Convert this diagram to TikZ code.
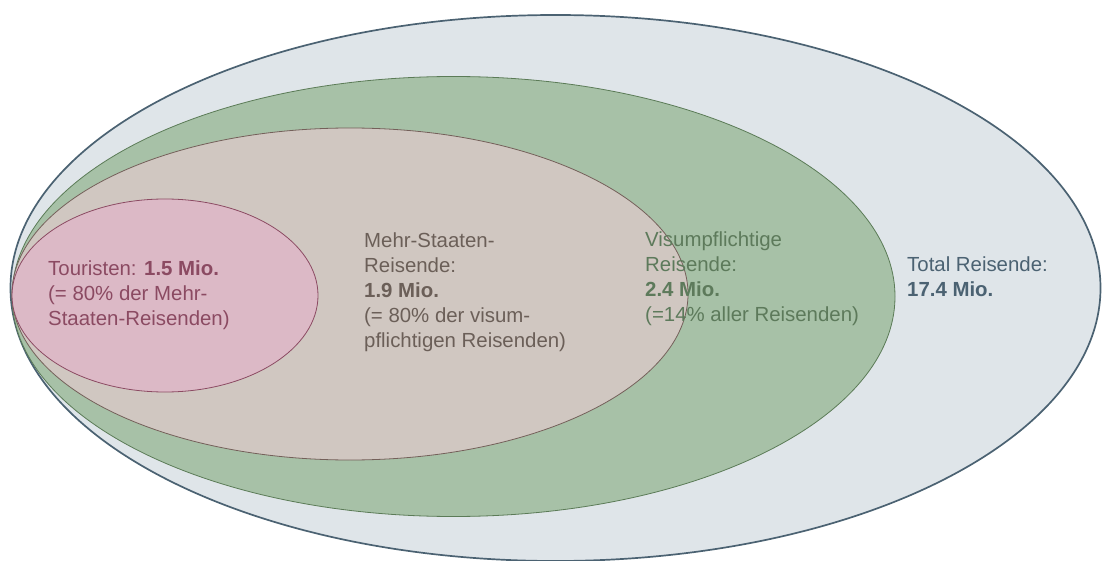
\documentclass[tikz,border=0pt]{standalone}
\usepackage{fontspec}
\setmainfont{Liberation Sans}
\usepackage{xcolor}
\usepackage{tikz}
\definecolor{totalFill}{HTML}{DFE5E9}
\definecolor{totalLine}{HTML}{4B6272}
\definecolor{visaFill}{HTML}{A7C1A7}
\definecolor{visaLine}{HTML}{5B7B57}
\definecolor{visaText}{HTML}{5D7A5B}
\definecolor{multiFill}{HTML}{D0C7C1}
\definecolor{multiLine}{HTML}{74605A}
\definecolor{multiText}{HTML}{6B5F58}
\definecolor{tourFill}{HTML}{DCB9C6}
\definecolor{tourLine}{HTML}{8C4B63}
\definecolor{tourText}{HTML}{8B4A62}
\tikzset{
  setOuter/.style={fill=totalFill, draw=totalLine, line width=1.7pt},
  setVisa/.style={fill=visaFill, draw=visaLine, line width=0.8pt},
  setMulti/.style={fill=multiFill, draw=multiLine, line width=0.8pt},
  setTour/.style={fill=tourFill, draw=tourLine, line width=0.8pt},
  setLabel/.style={anchor=north west, inner sep=0pt, align=left,
    font=\fontsize{20.4}{25}\selectfont}
}

\begin{document}
\begin{tikzpicture}[x=1pt,y=-1pt]
  \useasboundingbox (0,0) rectangle (1102,561);

  % nested sets, largest first
  \draw[setOuter] (555.5,288) ellipse [x radius=545pt, y radius=273pt];
  \draw[setVisa] (453.5,296.5) ellipse [x radius=441.5pt, y radius=220pt];
  \draw[setMulti] (350,294) ellipse [x radius=338pt, y radius=166pt];
  \draw[setTour] (165,295.5) ellipse [x radius=153pt, y radius=96.5pt];

  \node[setLabel, text=tourText] (tour) at (48,261)
    {Touristen: \textbf{1.5 Mio.}\\(= 80\% der Mehr-\\Staaten-Reisenden)};
  \node[setLabel, text=multiText] (multi) at (364,233)
    {Mehr-Staaten-\\Reisende:\\\textbf{1.9 Mio.}\\(= 80\% der visum-\\pflichtigen Reisenden)};
  \node[setLabel, text=visaText] (visa) at (645,232)
    {Visumpflichtige\\Reisende:\\\textbf{2.4 Mio.}\\(=14\% aller Reisenden)};
  \node[setLabel, text=totalLine] (total) at (907,257)
    {Total Reisende:\\\textbf{17.4 Mio.}};
\end{tikzpicture}
\end{document}
